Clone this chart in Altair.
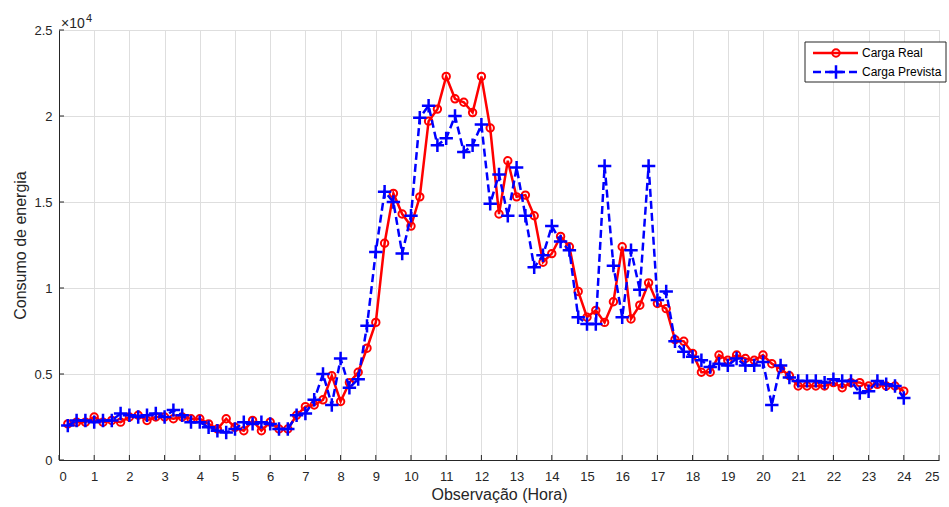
import altair as alt
import pandas as pd

# 15-minute observations, hours 0.25 .. 24.0
hours = [round(0.25 * i, 2) for i in range(1, 97)]

carga_real = [
    2100, 2200, 2200, 2500,
    2200, 2300, 2200, 2500,
    2600, 2300, 2500, 2500,
    2400, 2500, 2400, 2400,
    2100, 1800, 2400, 1900,
    1700, 2300, 1700, 2200,
    1800, 1800, 2600, 3100,
    3200, 3500, 4900, 3400,
    4500, 5100, 6500, 8000,
    12600, 15500, 14300, 13600,
    15300, 19700, 20400, 22300,
    21000, 20800, 20200, 22300,
    19300, 14300, 17400, 15300,
    15400, 14200, 11500, 12000,
    13000, 12400, 9800, 8300,
    8700, 8000, 9200, 12400,
    8200, 9000, 10300, 9100,
    8800, 7000, 6900, 6200,
    5100, 5100, 6100, 5800,
    6100, 5900, 5800, 6100,
    5600, 5300, 4900, 4300,
    4300, 4300, 4300, 4500,
    4200, 4500, 4500, 4300,
    4400, 4300, 4300, 4000,
]

carga_prevista = [
    2000, 2300, 2300, 2200,
    2300, 2300, 2700, 2600,
    2500, 2600, 2700, 2500,
    2900, 2600, 2200, 2200,
    1900, 1700, 1600, 1800,
    2200, 2100, 2200, 2100,
    1800, 1800, 2600, 2700,
    3500, 5000, 3200, 5900,
    4200, 4700, 7800, 12100,
    15600, 15000, 12000, 14200,
    19900, 20600, 18300, 18700,
    20000, 17900, 18300, 19500,
    14900, 16600, 14200, 17000,
    14200, 11200, 11900, 13600,
    12700, 12200, 8300, 7900,
    7900, 17100, 11300, 8300,
    12200, 9900, 17100, 9300,
    9800, 6900, 6300, 6000,
    5800, 5400, 5600, 5500,
    5900, 5500, 5500, 5700,
    3200, 5500, 4800, 4600,
    4600, 4600, 4500, 4700,
    4600, 4600, 3900, 4000,
    4600, 4400, 4300, 3600,
]

x_ticks = list(range(0, 26))
y_ticks = [0, 5000, 10000, 15000, 20000, 25000]

series_names = ["Carga Real", "Carga Prevista"]

df_real = pd.DataFrame({"hora": hours, "valor": carga_real})
df_prev = pd.DataFrame({"hora": hours, "valor": carga_prevista})
df_xt = pd.DataFrame({"t": x_ticks})
df_yt = pd.DataFrame({"t": y_ticks})

W, H = 880, 430
FONT = "Liberation Sans"
TXT = "#262626"
GRID = "#dedede"

xscale = alt.Scale(domain=[0, 25], nice=False, zero=False)
yscale = alt.Scale(domain=[0, 25000], nice=False)

xaxis = alt.Axis(
    values=x_ticks, title="Observação (Hora)", grid=True, gridColor=GRID,
    gridWidth=1, domainColor=TXT, domainWidth=1, ticks=False,
    labelFontSize=13, labelColor=TXT, labelPadding=10, labelFont=FONT,
    titleFontSize=16, titleColor=TXT, titleFontWeight="normal",
    titlePadding=3, titleFont=FONT,
)
yaxis = alt.Axis(
    values=y_ticks, title="Consumo de energia", grid=True, gridColor=GRID,
    gridWidth=1, domainColor=TXT, domainWidth=1, ticks=False,
    labelFontSize=13, labelColor=TXT, labelPadding=7, labelFont=FONT,
    labelExpr="datum.value / 10000",
    titleFontSize=16, titleColor=TXT, titleFontWeight="normal",
    titlePadding=5, titleFont=FONT,
)

X = lambda f: alt.X(f, type="quantitative", scale=xscale, axis=xaxis)
Y = lambda f: alt.Y(f, type="quantitative", scale=yscale, axis=yaxis)

RED = "#ff0000"
BLUE = "#0000ff"
PLUS = "M-1,0L1,0M0,-1L0,1"

real_line = alt.Chart(df_real).mark_line(color=RED, strokeWidth=2.5).encode(
    x=X("hora"), y=Y("valor"))
real_pts = alt.Chart(df_real).mark_point(
    shape="circle", filled=False, color=RED, size=55, strokeWidth=2, opacity=1
).encode(x=X("hora"), y=Y("valor"))

prev_line = alt.Chart(df_prev).mark_line(
    color=BLUE, strokeWidth=2.5, strokeDash=[8, 4]).encode(
    x=X("hora"), y=Y("valor"))
prev_pts = alt.Chart(df_prev).mark_point(
    shape=PLUS, filled=False, color=BLUE, size=180, strokeWidth=2.5, opacity=1
).encode(x=X("hora"), y=Y("valor"))

# inner tick marks (MATLAB style)
xt = alt.Chart(df_xt).mark_rule(color=TXT, strokeWidth=1).encode(
    x=X("t"), y=alt.value(H), y2=alt.value(H - 5))
yt = alt.Chart(df_yt).mark_rule(color=TXT, strokeWidth=1).encode(
    y=Y("t"), x=alt.value(0), x2=alt.value(5))

# exponent label
exp_base = alt.Chart(pd.DataFrame({"s": ["×10"]})).mark_text(
    align="left", baseline="alphabetic", font=FONT, fontSize=14, color=TXT
).encode(text="s:N", x=alt.value(2), y=alt.value(-2))
exp_pow = alt.Chart(pd.DataFrame({"s": ["4"]})).mark_text(
    align="left", baseline="alphabetic", font=FONT, fontSize=11, color=TXT
).encode(text="s:N", x=alt.value(27), y=alt.value(-8))

# legend
one = pd.DataFrame({"k": [0]})
leg_box = alt.Chart(one).mark_rect(
    fill="white", stroke=TXT, strokeWidth=1).encode(
    x=alt.value(746), x2=alt.value(887), y=alt.value(12), y2=alt.value(52))
leg_l1 = alt.Chart(one).mark_rule(color=RED, strokeWidth=2.5).encode(
    x=alt.value(754), x2=alt.value(799), y=alt.value(23))
leg_p1 = alt.Chart(one).mark_point(
    shape="circle", filled=False, color=RED, size=55, strokeWidth=2, opacity=1
).encode(x=alt.value(777), y=alt.value(23))
leg_l2 = alt.Chart(one).mark_rule(
    color=BLUE, strokeWidth=2.5, strokeDash=[8, 4]).encode(
    x=alt.value(754), x2=alt.value(799), y=alt.value(42))
leg_p2 = alt.Chart(one).mark_point(
    shape=PLUS, filled=False, color=BLUE, size=180, strokeWidth=2.5, opacity=1
).encode(x=alt.value(777), y=alt.value(42))
leg_t = alt.Chart(pd.DataFrame({"s": series_names, "yy": [23, 42]})).mark_text(
    align="left", baseline="middle", font=FONT, fontSize=12, color="#000000"
).encode(text="s:N", x=alt.value(803), y=alt.Y("yy:Q", scale=None, axis=None))

chart = alt.layer(
    real_line, real_pts, prev_line, prev_pts, xt, yt, exp_base, exp_pow,
    leg_box, leg_l1, leg_p1, leg_l2, leg_p2, leg_t,
).properties(
    width=W, height=H,
    autosize=alt.AutoSizeParams(type="none"),
    padding={"left": 59, "top": 30, "right": 10, "bottom": 47},
    background="white",
).configure_view(stroke="#d0d0d0", strokeWidth=1)

chart.save("out.html", embed_options={"renderer": "svg", "actions": False})
